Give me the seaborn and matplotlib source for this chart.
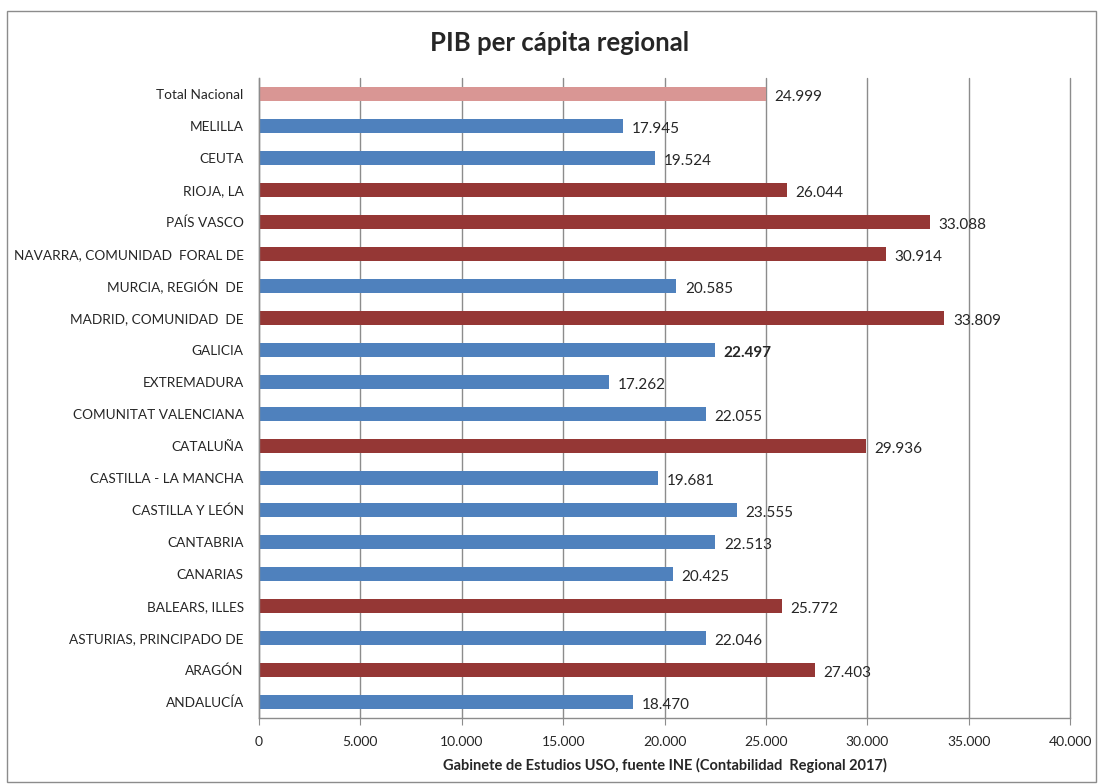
import matplotlib
matplotlib.use("Agg")
import matplotlib.pyplot as plt
import seaborn as sns
import pandas as pd
from matplotlib.ticker import FuncFormatter

regions = ["Total Nacional", "MELILLA", "CEUTA", "RIOJA, LA", "PAÍS VASCO",
           "NAVARRA, COMUNIDAD  FORAL DE", "MURCIA, REGIÓN  DE", "MADRID, COMUNIDAD  DE",
           "GALICIA", "EXTREMADURA", "COMUNITAT VALENCIANA", "CATALUÑA",
           "CASTILLA - LA MANCHA", "CASTILLA Y LEÓN", "CANTABRIA", "CANARIAS",
           "BALEARS, ILLES", "ASTURIAS, PRINCIPADO DE", "ARAGÓN", "ANDALUCÍA"]
values = [24999, 17945, 19524, 26044, 33088, 30914, 20585, 33809, 22497, 17262,
          22055, 29936, 19681, 23555, 22513, 20425, 25772, 22046, 27403, 18470]
group = ["total", "below", "below", "above", "above", "above", "below", "above",
         "below", "below", "below", "above", "below", "below", "below", "below",
         "above", "below", "above", "below"]
group_colors = {"total": "#D99694", "below": "#4F81BD", "above": "#953735"}
xticks = [0, 5000, 10000, 15000, 20000, 25000, 30000, 35000, 40000]

df = pd.DataFrame({"region": regions, "value": values, "group": group})
palette = {r: group_colors[g] for r, g in zip(regions, group)}

sns.set_style("white")
plt.rcParams["font.family"] = ["Lato", "DejaVu Sans"]

fig = plt.figure(figsize=(11.01, 7.84), dpi=100)
ax = fig.add_axes([259/1101, 1-718/784, (1070-259)/1101, (718-78)/784])

sns.barplot(data=df, x="value", y="region", hue="region", palette=palette,
            legend=False, orient="h", width=0.44, ax=ax, saturation=1,
            edgecolor="none")

ax.set_xlim(0, 40000)
ax.set_ylim(len(regions) - 0.5, -0.5)
ax.set_xticks(xticks)
ax.xaxis.set_major_formatter(FuncFormatter(lambda v, p: f"{int(v):,}".replace(",", ".")))
ax.grid(axis="x", color="#8C8C8C", linewidth=1.0, clip_on=False)
ax.set_axisbelow(True)
for s in ["top", "right"]:
    ax.spines[s].set_visible(False)
for s in ["left", "bottom"]:
    ax.spines[s].set_color("#8C8C8C")
    ax.spines[s].set_linewidth(1.0)
ax.tick_params(axis="x", length=5, color="#8C8C8C", labelsize=10, pad=8, direction="out", bottom=True)
ax.tick_params(axis="y", length=0, labelsize=9.8, pad=11)
ax.set_ylabel("")
ax.set_xlabel("Gabinete de Estudios USO, fuente INE (Contabilidad  Regional 2017)",
              fontsize=10.5, fontweight="bold", labelpad=7)

for i, (r, v) in enumerate(zip(regions, values)):
    ax.text(v + 420, i + 0.1, f"{v:,}".replace(",", "."), va="center", ha="left",
            fontsize=11, fontweight="bold" if r == "GALICIA" else "normal")

fig.suptitle("PIB per cápita regional", x=560/1101, y=1-43/784, va="center",
             fontsize=18.5, fontweight="bold")

fig.add_artist(plt.Rectangle((7/1101, 1-782/784), (1096-7)/1101, (782-11)/784,
                             transform=fig.transFigure, fill=False,
                             edgecolor="#8C8C8C", linewidth=1.0))

fig.savefig("out.png", dpi=100)
